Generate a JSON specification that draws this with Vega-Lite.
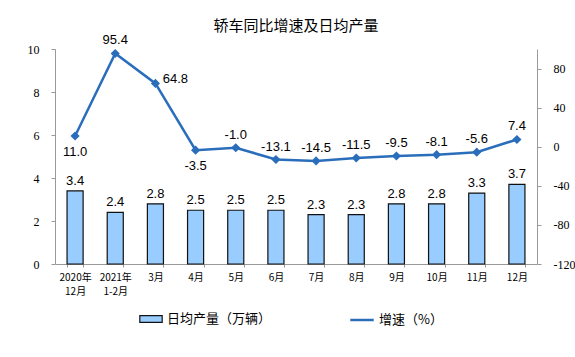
{
  "$schema": "https://vega.github.io/schema/vega-lite/v6.json",
  "width": 482,
  "height": 215,
  "autosize": "none",
  "padding": {"left": 55, "top": 49, "right": 38, "bottom": 93},
  "background": "white",
  "title": {"text": "轿车同比增速及日均产量", "font": "Noto Sans CJK SC", "fontSize": 15, "fontWeight": "normal", "color": "#000000", "offset": 0, "anchor": "middle"},
  "config": {"view": {"stroke": null}, "locale": {"number": {"decimal": ".", "thousands": ",", "grouping": [3], "currency": ["", ""], "minus": "-"}}},
  "data": {"values": [
    {"cat": "2020年|12月", "prod": 3.4, "growth": 11.0},
    {"cat": "2021年|1-2月", "prod": 2.4, "growth": 95.4},
    {"cat": "3月", "prod": 2.8, "growth": 64.8},
    {"cat": "4月", "prod": 2.5, "growth": -3.5},
    {"cat": "5月", "prod": 2.5, "growth": -1.0},
    {"cat": "6月", "prod": 2.5, "growth": -13.1},
    {"cat": "7月", "prod": 2.3, "growth": -14.5},
    {"cat": "8月", "prod": 2.3, "growth": -11.5},
    {"cat": "9月", "prod": 2.8, "growth": -9.5},
    {"cat": "10月", "prod": 2.8, "growth": -8.1},
    {"cat": "11月", "prod": 3.3, "growth": -5.6},
    {"cat": "12月", "prod": 3.7, "growth": 7.4}
  ]},
  "encoding": {
    "x": {"field": "cat", "type": "nominal", "sort": null,
      "scale": {"paddingInner": 0.6, "paddingOuter": 0.3},
      "axis": {"title": null, "labelAngle": 0, "labelExpr": "split(datum.label, '|')", "labelFont": "Noto Sans CJK SC", "labelFontSize": 10, "labelColor": "#000000", "labelPadding": 5, "domainColor": "#999999", "tickColor": "#999999", "ticks": true, "tickBand": "extent", "tickSize": 3, "labelLineHeight": 14}
    }
  },
  "layer": [
    {
      "layer": [
        {
          "mark": {"type": "bar", "stroke": "#111111", "strokeWidth": 1.2},
          "encoding": {
            "y": {"field": "prod", "type": "quantitative", "scale": {"domain": [0, 10]},
              "axis": {"title": null, "values": [0, 2, 4, 6, 8, 10], "grid": false, "labelFont": "Liberation Serif", "labelFontSize": 12, "labelColor": "#000000", "domainColor": "#999999", "tickColor": "#999999", "tickSize": 4, "labelPadding": 12}},
            "fill": {"datum": "日均产量（万辆）", "type": "nominal", "scale": {"range": ["#99CCFF"]},
              "legend": {"title": null, "orient": "none", "legendX": 84, "legendY": 258, "symbolType": "M-1,-0.3H1V0.3H-1Z", "symbolStrokeColor": "#111111", "symbolStrokeWidth": 1.2, "symbolSize": 500, "labelFont": "Noto Sans CJK SC", "labelFontSize": 13, "labelColor": "#000000", "labelOffset": 4}}
          }
        },
        {
          "mark": {"type": "text", "dy": -10, "font": "Liberation Sans", "fontSize": 13, "color": "#000000"},
          "encoding": {
            "y": {"field": "prod", "type": "quantitative", "scale": {"domain": [0, 10]}},
            "text": {"field": "prod", "type": "quantitative", "format": ".1f"}
          }
        }
      ]
    },
    {
      "layer": [
        {
          "mark": {"type": "line", "strokeWidth": 2.5, "point": {"shape": "diamond", "size": 40, "filled": true, "color": "#2A6EBB"}},
          "encoding": {
            "y": {"field": "growth", "type": "quantitative", "scale": {"domain": [-120, 100]},
              "axis": {"title": null, "orient": "right", "values": [-120, -80, -40, 0, 40, 80], "grid": false, "labelFont": "Liberation Serif", "labelFontSize": 12, "labelColor": "#000000", "domainColor": "#999999", "tickColor": "#999999", "tickSize": 4, "labelPadding": 12}},
            "stroke": {"datum": "增速（%）", "type": "nominal", "scale": {"range": ["#2A6EBB"]},
              "legend": {"title": null, "orient": "none", "legendX": 294, "legendY": 258, "symbolType": "stroke", "symbolStrokeWidth": 2.5, "symbolSize": 550, "labelFont": "Noto Sans CJK SC", "labelFontSize": 13, "labelColor": "#000000", "labelOffset": 4}}
          }
        },
        {
          "transform": [{"filter": "datum.cat != '2020年|12月' && datum.cat != '4月' && datum.cat != '3月'"}],
          "mark": {"type": "text", "dy": -13, "font": "Liberation Sans", "fontSize": 13, "color": "#000000"},
          "encoding": {
            "y": {"field": "growth", "type": "quantitative", "scale": {"domain": [-120, 100]}},
            "text": {"field": "growth", "type": "quantitative", "format": ".1f"}
          }
        },
        {
          "transform": [{"filter": "datum.cat == '2020年|12月' || datum.cat == '4月'"}],
          "mark": {"type": "text", "dy": 16, "font": "Liberation Sans", "fontSize": 13, "color": "#000000"},
          "encoding": {
            "y": {"field": "growth", "type": "quantitative", "scale": {"domain": [-120, 100]}},
            "text": {"field": "growth", "type": "quantitative", "format": ".1f"}
          }
        },
        {
          "transform": [{"filter": "datum.cat == '3月'"}],
          "mark": {"type": "text", "dx": 20, "dy": -4, "font": "Liberation Sans", "fontSize": 13, "color": "#000000"},
          "encoding": {
            "y": {"field": "growth", "type": "quantitative", "scale": {"domain": [-120, 100]}},
            "text": {"field": "growth", "type": "quantitative", "format": ".1f"}
          }
        }
      ]
    }
  ],
  "resolve": {"scale": {"y": "independent"}}
}
